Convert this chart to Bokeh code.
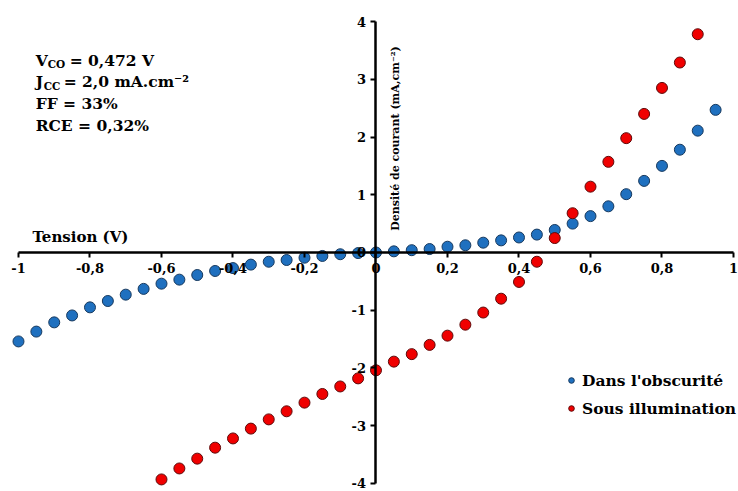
from bokeh.plotting import figure
from bokeh.models import (LinearAxis, FixedTicker, Range1d, Label, Legend, LegendItem)
from bokeh.embed import file_html
from bokeh.resources import INLINE

# ---- data ----
v_dark = [-1.00, -0.95, -0.90, -0.85, -0.80, -0.75, -0.70, -0.65, -0.60, -0.55,
          -0.50, -0.45, -0.40, -0.35, -0.30, -0.25, -0.20, -0.15, -0.10, -0.05,
          0.00, 0.05, 0.10, 0.15, 0.20, 0.25, 0.30, 0.35, 0.40, 0.45,
          0.50, 0.55, 0.60, 0.65, 0.70, 0.75, 0.80, 0.85, 0.90, 0.95]
j_dark = [-1.54, -1.37, -1.21, -1.09, -0.95, -0.84, -0.73, -0.63, -0.54, -0.47,
          -0.39, -0.32, -0.27, -0.21, -0.16, -0.13, -0.09, -0.06, -0.03, -0.01,
          0.00, 0.02, 0.04, 0.06, 0.10, 0.125, 0.17, 0.21, 0.26, 0.31,
          0.39, 0.50, 0.63, 0.80, 1.01, 1.24, 1.50, 1.78, 2.11, 2.47]

v_light = [-0.60, -0.55, -0.50, -0.45, -0.40, -0.35, -0.30, -0.25, -0.20, -0.15,
           -0.10, -0.05, 0.00, 0.05, 0.10, 0.15, 0.20, 0.25, 0.30, 0.35,
           0.40, 0.45, 0.50, 0.55, 0.60, 0.65, 0.70, 0.75, 0.80, 0.85, 0.90]
j_light = [-3.93, -3.74, -3.57, -3.38, -3.22, -3.05, -2.89, -2.75, -2.60, -2.45,
           -2.32, -2.18, -2.04, -1.89, -1.76, -1.60, -1.44, -1.25, -1.04, -0.80,
           -0.51, -0.16, 0.25, 0.68, 1.14, 1.57, 1.98, 2.40, 2.85, 3.29, 3.78]

x_ticks = [-1.0, -0.8, -0.6, -0.4, -0.2, 0.0, 0.2, 0.4, 0.6, 0.8, 1.0]
x_tick_labels = ["-1", "-0,8", "-0,6", "-0,4", "-0,2", "0", "0,2", "0,4", "0,6", "0,8", "1"]
y_ticks = [-4.0, -3.0, -2.0, -1.0, 0.0, 1.0, 2.0, 3.0, 4.0]
y_tick_labels = ["-4", "-3", "-2", "-1", "0", "1", "2", "3", "4"]

series_names = ["Dans l'obscurité", "Sous illumination"]
x_title = "Tension (V)"
y_title = "Densité de courant (mA,cm⁻²)"
params_main = ["V", "J", "FF = 33%", "RCE = 0,32%"]
params_sub = ["CO", "CC"]
params_rest = ["= 0,472 V", "= 2,0 mA.cm⁻²"]

FONT = "DejaVu Serif"

p = figure(width=738, height=491, output_backend="svg", toolbar_location=None,
           x_axis_type=None, y_axis_type=None,
           x_range=Range1d(-1.0503, 1.014), y_range=Range1d(-4.139, 4.364),
           min_border=0, outline_line_color=None, background_fill_color="white",
           border_fill_color="white")
p.grid.visible = False

def style_axis(ax):
    ax.axis_line_width = 2.5
    ax.axis_line_color = "black"
    ax.major_tick_line_width = 2
    ax.major_tick_line_color = "black"
    ax.major_tick_out = 5
    ax.major_tick_in = 0
    ax.minor_tick_line_color = None
    ax.major_label_text_font = FONT
    ax.major_label_text_font_style = "bold"
    ax.major_label_text_font_size = "13px"
    ax.major_label_text_color = "black"
    ax.major_label_standoff = 6

xaxis = LinearAxis(fixed_location=0, bounds=(-1, 1), ticker=FixedTicker(ticks=x_ticks),
                   major_label_overrides=dict(zip(x_ticks, x_tick_labels)))
style_axis(xaxis)
p.add_layout(xaxis, "below")

yaxis = LinearAxis(fixed_location=0, bounds=(-4, 4), ticker=FixedTicker(ticks=y_ticks),
                   major_label_overrides=dict(zip(y_ticks, y_tick_labels)))
style_axis(yaxis)
yaxis.major_label_standoff = 5
p.add_layout(yaxis, "left")

r_dark = p.scatter(v_dark, j_dark, marker="circle", size=11, fill_color="#1f70bf",
                   line_color="#17395e", line_width=1)
r_light = p.scatter(v_light, j_light, marker="circle", size=11, fill_color="#f00000",
                    line_color="#5e0a0a", line_width=1)

legend = Legend(items=[LegendItem(label=series_names[0], renderers=[r_dark]),
                       LegendItem(label=series_names[1], renderers=[r_light])],
                location=(564, 73), padding=0, spacing=8, label_height=20,
                glyph_height=20, glyph_width=14, label_standoff=4,
                border_line_color=None, background_fill_alpha=0,
                label_text_font=FONT, label_text_font_style="bold",
                label_text_font_size="15.5px", label_text_color="black")
p.add_layout(legend, "center")

# axis titles
p.add_layout(Label(x=-0.961, y=0.26, text=x_title, text_font=FONT, text_font_style="bold",
                   text_font_size="15px", text_color="black", text_baseline="alphabetic"))
p.add_layout(Label(x=0.035, y=1.974, text=y_title, text_font=FONT, text_font_style="bold",
                   text_font_size="11px", text_color="black", angle=1.5708,
                   text_align="center", text_baseline="top"))

# parameter block
x0 = -0.952
ys = [3.325, 2.961, 2.580, 2.199]
lbl_kw = dict(text_font=FONT, text_font_style="bold", text_color="black",
              text_baseline="alphabetic")
sub_off = [12, 8]
rest_off = [34, 28]
for i in range(2):
    p.add_layout(Label(x=x0, y=ys[i], text=params_main[i], text_font_size="15.5px", **lbl_kw))
    p.add_layout(Label(x=x0, y=ys[i], text=params_sub[i], text_font_size="10.5px",
                       x_offset=sub_off[i], y_offset=-4, **lbl_kw))
    p.add_layout(Label(x=x0, y=ys[i], text=params_rest[i], text_font_size="15.5px",
                       x_offset=rest_off[i], **lbl_kw))
for i in range(2, 4):
    p.add_layout(Label(x=x0, y=ys[i], text=params_main[i], text_font_size="15.5px", **lbl_kw))

open("out.html", "w").write(file_html(p, INLINE))
